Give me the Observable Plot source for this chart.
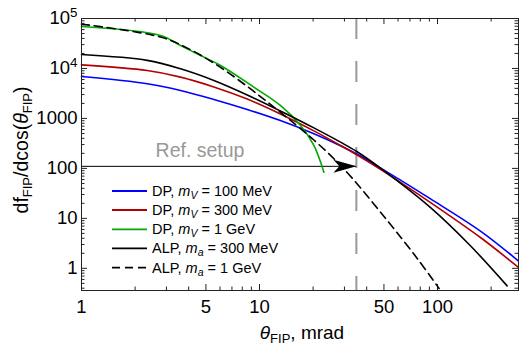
<!DOCTYPE html>
<html><head><meta charset="utf-8">
<script src="https://cdn.jsdelivr.net/npm/d3@7"></script>
<script src="https://cdn.jsdelivr.net/npm/@observablehq/plot@0.6"></script>
<style>body{margin:0;background:#fff;} #chart{width:519px;height:345px;}</style>
</head><body><div id="chart"></div>
<script>
// ---- data ----
const seriesNames = ["DP, mV = 100 MeV", "DP, mV = 300 MeV", "DP, mV = 1 GeV", "ALP, ma = 300 MeV", "ALP, ma = 1 GeV"];
const seriesColors = ["#0000ff", "#b00000", "#00aa00", "#000000", "#000000"];
const dashedSeries = "ALP, ma = 1 GeV";

const thetaDP100 = [1, 2.34, 3.6, 5.54, 8.53, 13.1, 20.2, 28.5, 35, 48, 91.4, 175, 285];
const dfDP100    = [6900, 4950, 3630, 2400, 1510, 904, 493, 284, 196, 101, 24.5, 5.5, 1.4];

const thetaDP300 = [1, 2.34, 3.6, 5.54, 8.53, 13.1, 20.2, 28.5, 35, 48, 91.4, 175, 285];
const dfDP300    = [11800, 9080, 6710, 4270, 2440, 1230, 564, 287, 189, 94.4, 20.7, 4.09, 1.04];

const thetaDP1G  = [1, 2.78, 3.6, 4.66, 6.04, 9.29, 13.1, 17.0, 20.2, 23.0];
const dfDP1G     = [69000, 45700, 28800, 18200, 11500, 4240, 1820, 724, 288, 84];

const thetaALP300 = [1, 2.34, 3.6, 5.54, 8.53, 13.1, 20.2, 28.5, 35, 48, 91.4, 153, 246];
const dfALP300    = [19000, 14500, 9840, 5750, 2950, 1410, 646, 335, 220, 100, 16.4, 2.83, 0.446];

const thetaALP1G = [1, 2.78, 4.1, 6.04, 8.53, 11.0, 15.6, 20.2, 26.1, 33.2, 52.2, 76.9, 102];
const dfALP1G    = [77000, 42500, 23700, 10500, 4370, 2170, 802, 370, 158, 63.5, 9.04, 1.58, 0.395];

const xDomain = [1, 285];
const yDomain = [0.36, 1e5];
const xTickLabels = [1, 5, 10, 50, 100];
const yTickLabels = [1, 10, 100, 1000, 1e4, 1e5];

const refTheta = 35;      // vertical dashed line
const refValue = 110;     // horizontal arrow level
const refLabel = "Ref. setup";

const legendPrefix = ["DP", "DP", "DP", "ALP", "ALP"];
const legendSub    = ["V", "V", "V", "a", "a"];
const legendRest   = ["100 MeV", "300 MeV", "1 GeV", "300 MeV", "1 GeV"];

// ---- build table ----
const seriesTheta = [thetaDP100, thetaDP300, thetaDP1G, thetaALP300, thetaALP1G];
const seriesDf = [dfDP100, dfDP300, dfDP1G, dfALP300, dfALP1G];
const rows = [];
seriesNames.forEach((name, s) => seriesTheta[s].forEach((t, i) => rows.push({series: name, theta: t, df: seriesDf[s][i]})));

// ---- layout ----
const W = 519, H = 345, mL = 81, mR = 1, mT = 18, mB = 55;
const plotW = W - mL - mR, plotH = H - mT - mB;
const FONT = "'Liberation Sans', Arial, sans-serif";

const xMajor = xTickLabels;
const xMinor = [];
for (let d = 1; d <= 100; d *= 10) for (let k = 2; k <= 9; k++) { const v = k * d; if (v <= xDomain[1] && !xMajor.includes(v)) xMinor.push(v); }
const yMajor = yTickLabels;
const yMinor = [];
for (let d = 0.1; d <= 1e4; d *= 10) for (let k = 2; k <= 9; k++) { const v = +(k * d).toPrecision(3); if (v >= yDomain[0] && v <= yDomain[1]) yMinor.push(v); }

const arrowHead = {
  draw(context) {
    context.moveTo(0, 0);
    context.lineTo(-23, -6.5);
    context.lineTo(-17, 0);
    context.lineTo(-23, 6.5);
    context.closePath();
  }
};

const tickStroke = "#222";
const chart = Plot.plot({
  width: W, height: H,
  marginLeft: mL, marginRight: mR, marginTop: mT, marginBottom: mB,
  style: {fontFamily: FONT, background: "white", color: "black"},
  x: {type: "log", domain: xDomain},
  y: {type: "log", domain: yDomain},
  color: {domain: seriesNames, range: seriesColors},
  marks: [
    // inward frame ticks
    Plot.ruleX(xMajor, {insetTop: plotH - 6, stroke: tickStroke}),
    Plot.ruleX(xMinor, {insetTop: plotH - 3.5, stroke: tickStroke}),
    Plot.ruleX(xMajor, {insetBottom: plotH - 6, stroke: tickStroke}),
    Plot.ruleX(xMinor, {insetBottom: plotH - 3.5, stroke: tickStroke}),
    Plot.ruleY(yMajor, {insetRight: plotW - 6, stroke: tickStroke}),
    Plot.ruleY(yMinor, {insetRight: plotW - 3.5, stroke: tickStroke}),
    Plot.ruleY(yMajor, {insetLeft: plotW - 6, stroke: tickStroke}),
    Plot.ruleY(yMinor, {insetLeft: plotW - 3.5, stroke: tickStroke}),
    // reference setup
    Plot.ruleX([refTheta], {stroke: "#999", strokeWidth: 2, strokeDasharray: "21,22"}),
    Plot.ruleY([{y: refValue, x1: xDomain[0], x2: refTheta}], {y: "y", x1: "x1", x2: "x2", stroke: "black", strokeWidth: 1}),
    // curves
    Plot.line(rows.filter(d => d.series !== dashedSeries), {x: "theta", y: "df", z: "series", stroke: "series", strokeWidth: 1.6, curve: "catmull-rom"}),
    Plot.line(rows.filter(d => d.series === dashedSeries), {x: "theta", y: "df", stroke: "black", strokeWidth: 1.6, strokeDasharray: "8,5", curve: "catmull-rom"}),
    Plot.dot([{x: refTheta, y: refValue}], {x: "x", y: "y", symbol: arrowHead, r: 5, fill: "black", stroke: "none"}),
    // axes labels
    Plot.axisX({ticks: xTickLabels, tickSize: 0, tickPadding: 9, fontSize: 18.5, label: null, tickFormat: d => String(d)}),
    Plot.axisY({ticks: yTickLabels, tickSize: 0, tickPadding: 4, fontSize: 18.5, label: null,
      tickFormat: d => d >= 1e4 ? "10^" + Math.round(Math.log10(d)) : String(d)}),
    Plot.frame({stroke: "#222"})
  ]
});
document.getElementById("chart").appendChild(chart);

const svg = d3.select(chart);
// superscript powers
svg.selectAll("text").each(function () {
  const t = d3.select(this);
  const s = t.text();
  if (s.startsWith("10^")) {
    const e = s.slice(3);
    t.text("10");
    t.append("tspan").attr("dy", "-0.55em").attr("font-size", "72%").text(e);
  }
});

// Ref. setup label
svg.append("text").attr("x", 200).attr("y", 157).attr("text-anchor", "middle")
  .attr("font-family", FONT).attr("font-size", 19.5).attr("fill", "#999").text(refLabel);

// x title
const xt = svg.append("text").attr("x", 302).attr("y", 339).attr("text-anchor", "middle")
  .attr("font-family", FONT).attr("font-size", 19).attr("fill", "black");
xt.append("tspan").attr("font-style", "italic").text("θ");
xt.append("tspan").attr("font-size", 13).attr("dy", 4).text("FIP");
xt.append("tspan").attr("dy", -4).text(", mrad");

// y title
const yt = svg.append("text").attr("transform", "translate(28,150) rotate(-90)").attr("text-anchor", "middle")
  .attr("font-family", FONT).attr("font-size", 19.5).attr("fill", "black");
yt.append("tspan").text("df");
yt.append("tspan").attr("font-size", 13).attr("dy", 4).text("FIP");
yt.append("tspan").attr("dy", -4).text("/dcos(");
yt.append("tspan").attr("font-style", "italic").text("θ");
yt.append("tspan").attr("font-size", 13).attr("dy", 4).text("FIP");
yt.append("tspan").attr("dy", -4).text(")");

// legend
const legendY = [191, 210, 229.3, 248.3, 267.7];
const lg = svg.append("g");
seriesNames.forEach((name, i) => {
  const y = legendY[i];
  lg.append("line").attr("x1", 112).attr("x2", 147).attr("y1", y).attr("y2", y)
    .attr("stroke", seriesColors[i]).attr("stroke-width", 1.8)
    .attr("stroke-dasharray", name === dashedSeries ? "8,5" : null);
  const t = lg.append("text").attr("x", 152).attr("y", y + 5).attr("font-family", FONT)
    .attr("text-anchor", "start").attr("font-size", 14.5).attr("fill", "black");
  t.append("tspan").text(legendPrefix[i] + ", ");
  t.append("tspan").attr("font-style", "italic").text("m");
  t.append("tspan").attr("font-style", "italic").attr("font-size", 10.5).attr("dy", 3).text(legendSub[i]);
  t.append("tspan").attr("dy", -3).text(" = " + legendRest[i]);
});
</script>
</body></html>
